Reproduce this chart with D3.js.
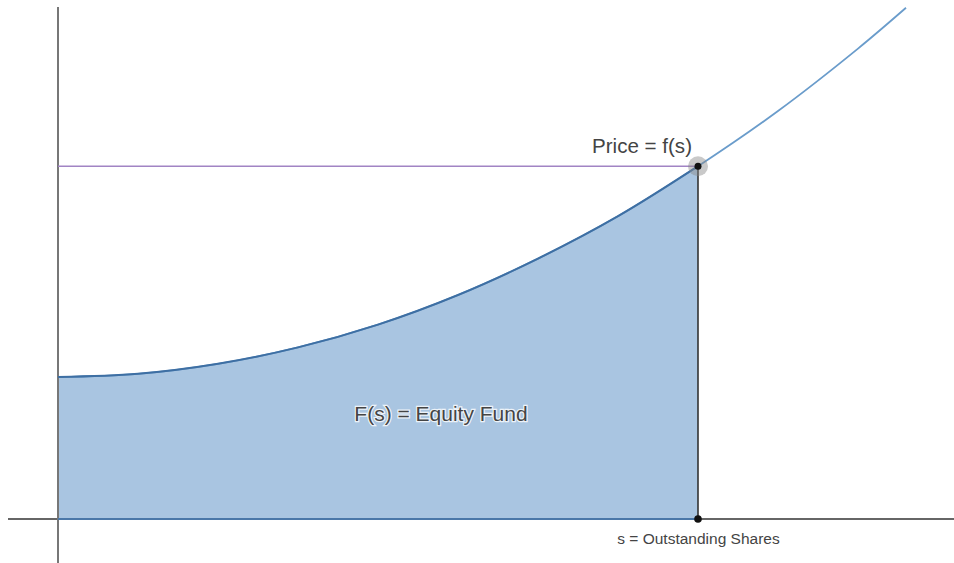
<!DOCTYPE html>
<html><head><meta charset="utf-8">
<script src="https://cdn.jsdelivr.net/npm/d3@7"></script>
<style>body{margin:0;background:#fff;}svg{display:block;}text{font-family:"Liberation Sans",Arial,sans-serif;}</style>
</head><body>
<svg id="c" width="954" height="563"></svg>
<script>
// curve samples: s (shares) and f(s) (price)
const sValues = [0, 1, 2, 3, 4, 5, 6, 7, 8, 9, 10, 10.6];
const fValues = [3.55, 3.63, 3.88, 4.29, 4.86, 5.60, 6.51, 7.57, 8.82, 10.20, 11.76, 12.78];
const sMark = 8;          // outstanding shares
const priceMark = 8.82;   // f(s)
const labels = {price: "Price = f(s)", fund: "F(s) = Equity Fund", shares: "s = Outstanding Shares"};

const svg = d3.select("#c");
const x = d3.scaleLinear().domain([0, 10]).range([58, 858]);
const y = d3.scaleLinear().domain([0, 10]).range([519, 119]);

const pts = sValues.map((s, i) => ({s, f: fValues[i]}));
const fillPts = pts.filter(d => d.s <= sMark);

// filled area
const area = d3.area().x(d => x(d.s)).y0(y(0)).y1(d => y(d.f)).curve(d3.curveCatmullRom);
svg.append("path").datum(fillPts).attr("d", area).attr("fill", "#a9c5e1");

// axes
svg.append("line").attr("x1", 8).attr("x2", 954).attr("y1", y(0)).attr("y2", y(0))
  .attr("stroke", "#333").attr("stroke-width", 1.5);
svg.append("line").attr("x1", x(0)).attr("x2", x(0)).attr("y1", 7).attr("y2", 563)
  .attr("stroke", "#777").attr("stroke-width", 2);

// bottom edge of fill
svg.append("line").attr("x1", x(0)).attr("x2", x(sMark)).attr("y1", y(0)).attr("y2", y(0))
  .attr("stroke", "#4a77a8").attr("stroke-width", 2);

// full curve
const line = d3.line().x(d => x(d.s)).y(d => y(d.f)).curve(d3.curveCatmullRom);
svg.append("path").datum(pts).attr("d", line).attr("fill", "none")
  .attr("stroke", "#6a9ccb").attr("stroke-width", 1.8);
// darker boundary on fill
svg.append("path").datum(fillPts).attr("d", line).attr("fill", "none")
  .attr("stroke", "#3e6fa3").attr("stroke-width", 2);

// price line
svg.append("line").attr("x1", x(0)).attr("x2", x(sMark)).attr("y1", y(priceMark)).attr("y2", y(priceMark))
  .attr("stroke", "#a184c4").attr("stroke-width", 1.6);

// vertical line
svg.append("line").attr("x1", x(sMark)).attr("x2", x(sMark)).attr("y1", y(priceMark)).attr("y2", y(0))
  .attr("stroke", "#333").attr("stroke-width", 1.6);

// halo + points
svg.append("circle").attr("cx", x(sMark)).attr("cy", y(priceMark)).attr("r", 10)
  .attr("fill", "#888").attr("opacity", 0.45);
svg.append("circle").attr("cx", x(sMark)).attr("cy", y(priceMark)).attr("r", 3.5).attr("fill", "#111");
svg.append("circle").attr("cx", x(sMark)).attr("cy", y(0)).attr("r", 3.8).attr("fill", "#111");

// labels
svg.append("text").attr("x", x(sMark) - 6).attr("y", y(priceMark) - 13).attr("text-anchor", "end")
  .attr("font-size", 21).attr("fill", "#444")
  .attr("textLength", 100).attr("lengthAdjust", "spacingAndGlyphs").text(labels.price);
svg.append("text").attr("x", 441).attr("y", 421).attr("text-anchor", "middle")
  .attr("font-size", 21).attr("fill", "#444")
  .attr("stroke", "#fff").attr("stroke-width", 2.5).attr("paint-order", "stroke").attr("stroke-opacity", 0.8)
  .text(labels.fund);
svg.append("text").attr("x", x(sMark) + 0.5).attr("y", 544).attr("text-anchor", "middle")
  .attr("font-size", 15.5).attr("fill", "#444").text(labels.shares);
</script>
</body></html>
